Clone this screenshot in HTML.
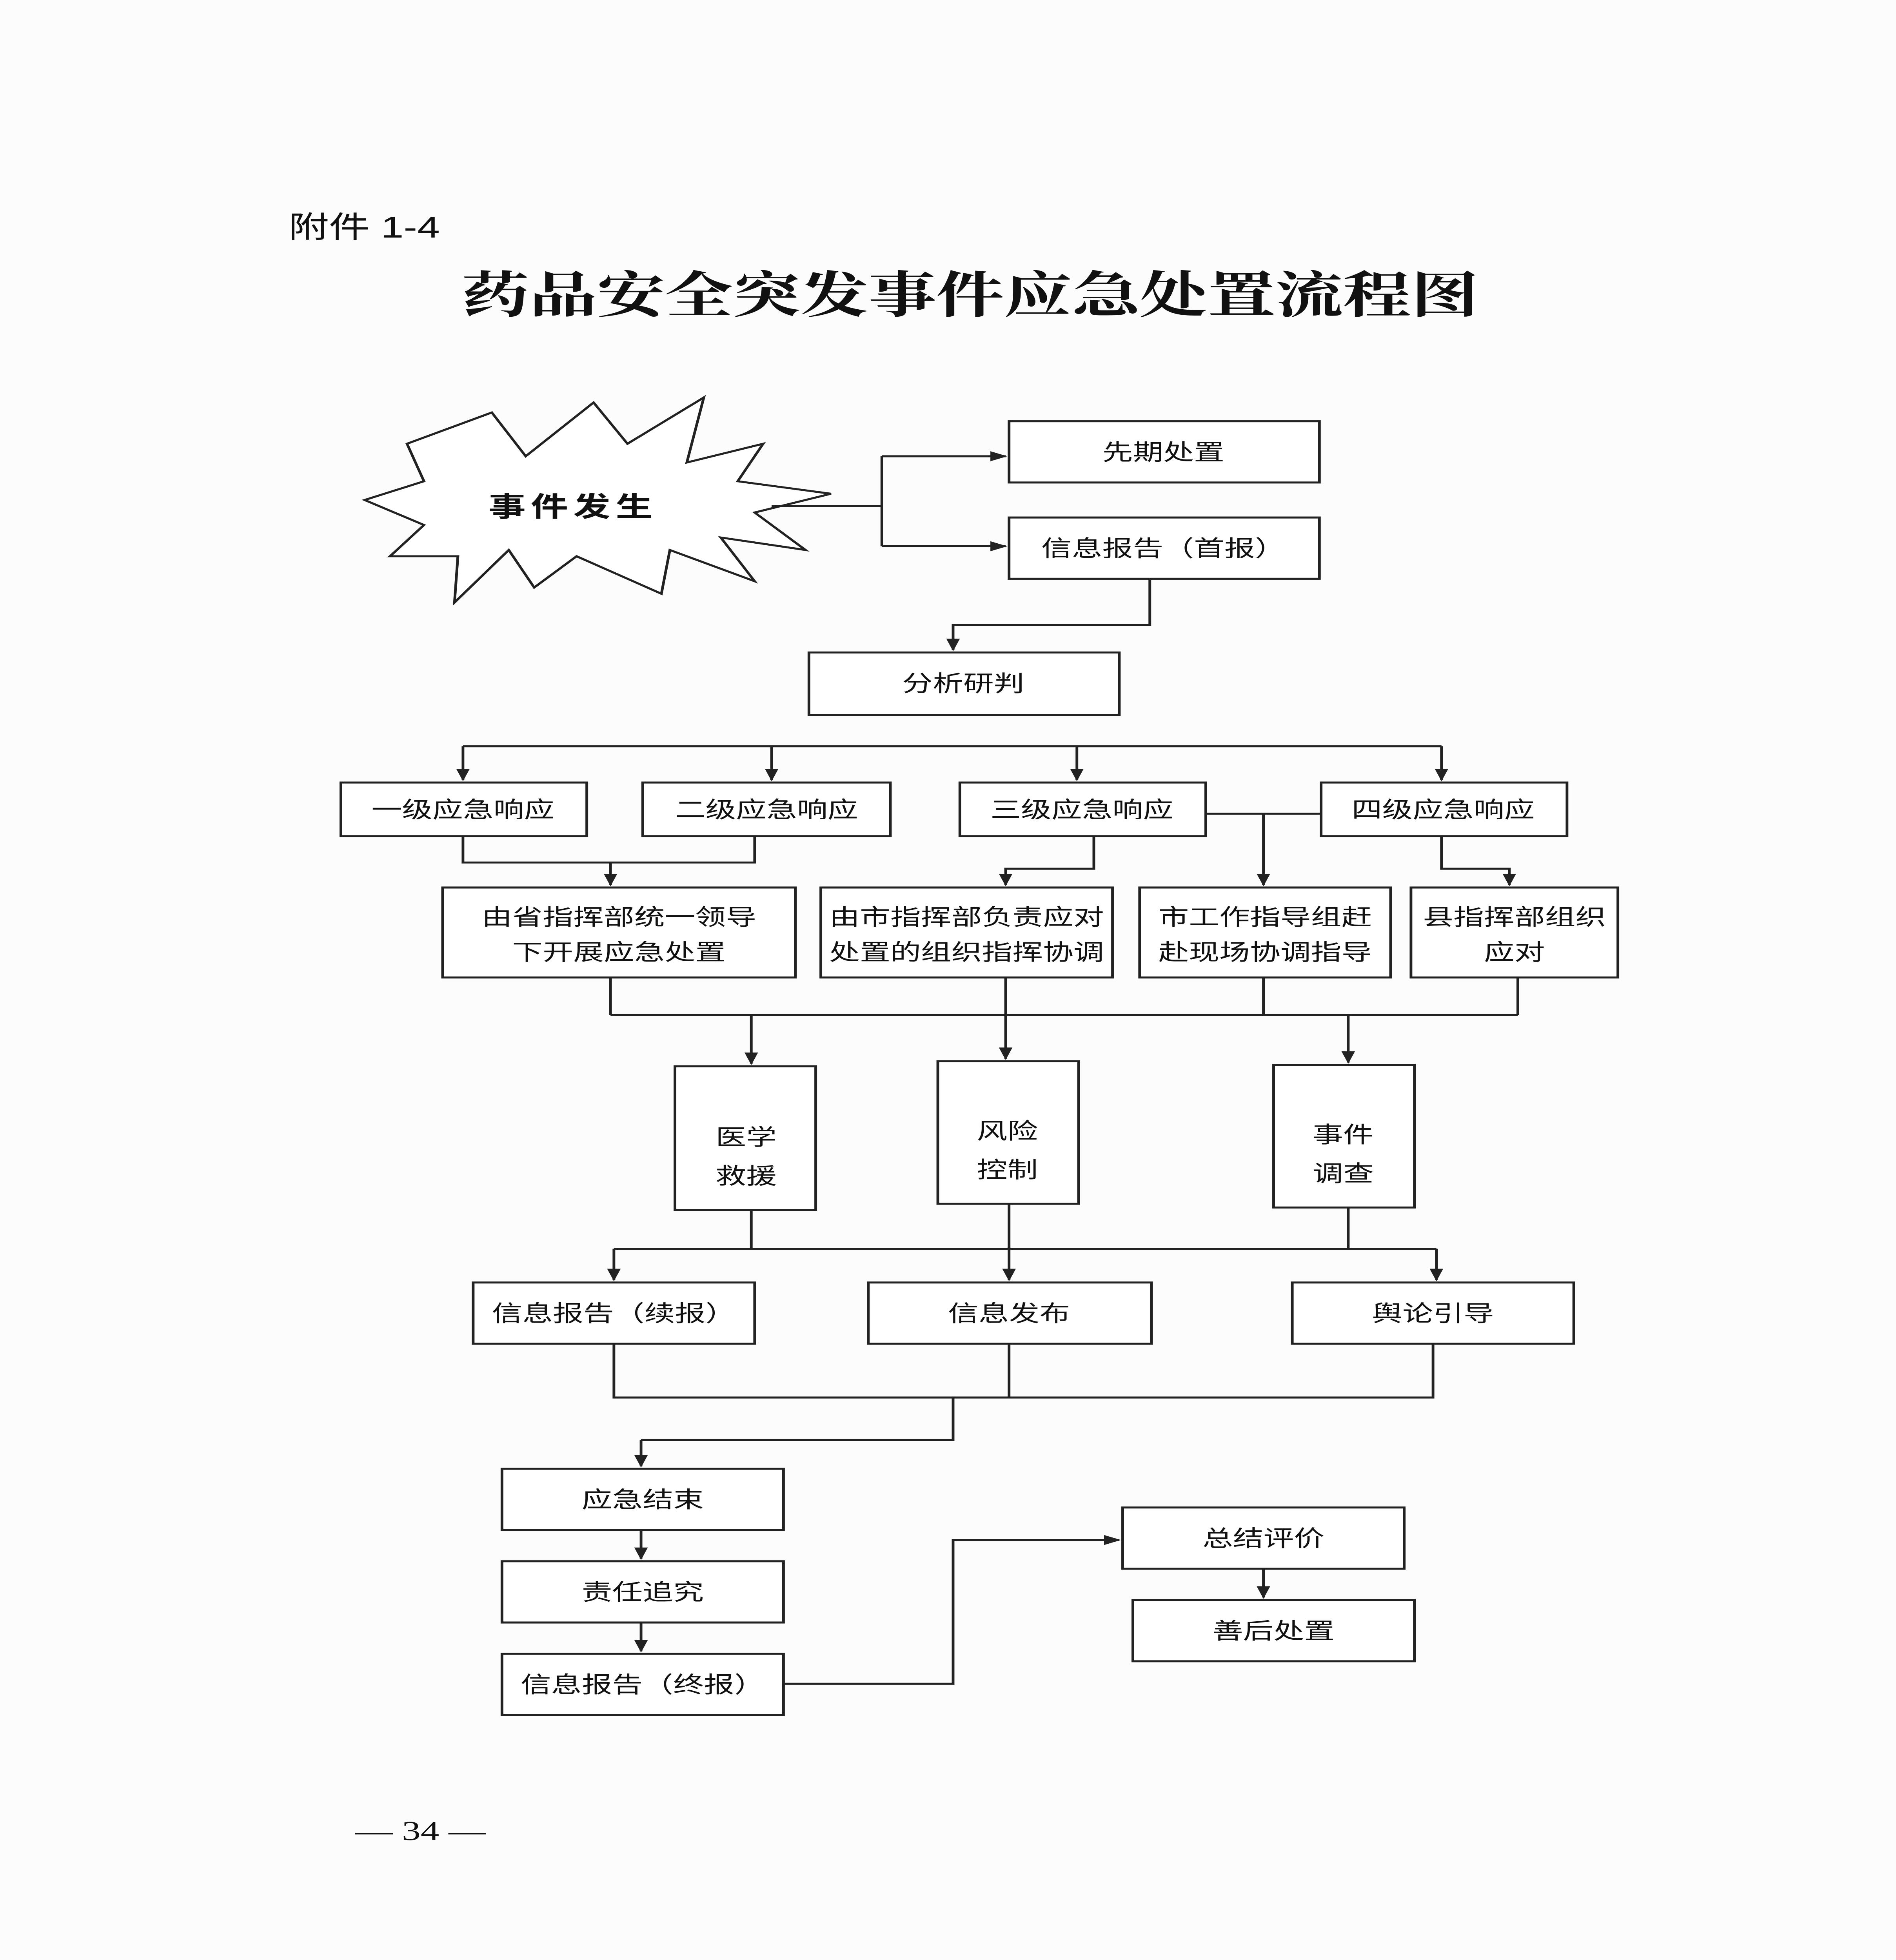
<!DOCTYPE html>
<html><head><meta charset="utf-8"><style>
html,body{margin:0;padding:0;background:#fcfcfc;width:100%;height:100%;overflow:hidden;}
svg{display:block;position:fixed;left:0;top:0;width:100vw;height:100vh;}
text{font-family:"Liberation Sans","Noto Sans CJK SC",sans-serif;fill:#111;}
.b{fill:#fff;stroke:#222;stroke-width:1.6;}
.l{fill:none;stroke:#222;stroke-width:1.6;}
.t{font-size:18px;text-anchor:middle;}
</style></head><body>
<svg viewBox="0 0 1118 1568" preserveAspectRatio="none" xmlns="http://www.w3.org/2000/svg">
<defs><marker id="a" markerWidth="10" markerHeight="10" refX="9" refY="5" orient="auto" markerUnits="userSpaceOnUse"><path d="M0,1 L10,5 L0,9 z" fill="#222"/></marker></defs>
<rect width="1118" height="1568" fill="#fcfcfc"/>
<text x="170" y="190" style="font-size:24px">附件 1-4</text>
<text x="572" y="250" style="font-size:40px;font-weight:bold;font-family:'Noto Serif CJK SC','Liberation Serif',serif;text-anchor:middle">药品安全突发事件应急处置流程图</text>
<polygon class="b" points="240,355 290,330 310,365 350,322 370,355 415,318 405,370 450,355 435,385 490,395 445,410 475,440 425,430 445,465 395,440 390,475 340,445 315,470 300,440 268,482 270,445 230,445 250,420 215,400 250,385"/>
<text x="338" y="413" style="font-size:22px;font-weight:bold;text-anchor:middle;letter-spacing:3px">事件发生</text>
<path class="l" d="M455,405 H520 M520,365 V437"/>
<path class="l" d="M520,365 H593" marker-end="url(#a)"/>
<path class="l" d="M520,437 H593" marker-end="url(#a)"/>
<rect class="b" x="595" y="337" width="183" height="49"/><text class="t" x="686" y="368">先期处置</text>
<rect class="b" x="595" y="414" width="183" height="49"/><text class="t" x="686" y="445">信息报告（首报）</text>
<path class="l" d="M678,463 V500 H562 V520" marker-end="url(#a)"/>
<rect class="b" x="477" y="522" width="183" height="50"/><text class="t" x="568" y="553">分析研判</text>
<path class="l" d="M273,597 H850"/>
<path class="l" d="M273,597 V624" marker-end="url(#a)"/>
<path class="l" d="M455,597 V624" marker-end="url(#a)"/>
<path class="l" d="M635,597 V624" marker-end="url(#a)"/>
<path class="l" d="M850,597 V624" marker-end="url(#a)"/>
<rect class="b" x="201" y="626" width="145" height="43"/><text class="t" x="273" y="654">一级应急响应</text>
<rect class="b" x="379" y="626" width="146" height="43"/><text class="t" x="452" y="654">二级应急响应</text>
<rect class="b" x="566" y="626" width="145" height="43"/><text class="t" x="638" y="654">三级应急响应</text>
<rect class="b" x="779" y="626" width="145" height="43"/><text class="t" x="851" y="654">四级应急响应</text>
<path class="l" d="M711,651 H779"/>
<path class="l" d="M745,651 V708" marker-end="url(#a)"/>
<path class="l" d="M273,669 V690 H445 V669"/>
<path class="l" d="M360,690 V708" marker-end="url(#a)"/>
<path class="l" d="M645,669 V695 H593 V708" marker-end="url(#a)"/>
<path class="l" d="M850,669 V695 H890 V708" marker-end="url(#a)"/>
<rect class="b" x="261" y="710" width="208" height="72"/><text class="t" x="365" y="740">由省指挥部统一领导</text><text class="t" x="365" y="768">下开展应急处置</text>
<rect class="b" x="484" y="710" width="172" height="72"/><text class="t" x="570" y="740">由市指挥部负责应对</text><text class="t" x="570" y="768">处置的组织指挥协调</text>
<rect class="b" x="672" y="710" width="148" height="72"/><text class="t" x="746" y="740">市工作指导组赶</text><text class="t" x="746" y="768">赴现场协调指导</text>
<rect class="b" x="832" y="710" width="122" height="72"/><text class="t" x="893" y="740">县指挥部组织</text><text class="t" x="893" y="768">应对</text>
<path class="l" d="M360,782 V812 M593,782 V812 M745,782 V812 M895,782 V812 M360,812 H895"/>
<path class="l" d="M443,812 V851" marker-end="url(#a)"/>
<path class="l" d="M593,812 V847" marker-end="url(#a)"/>
<path class="l" d="M795,812 V850" marker-end="url(#a)"/>
<rect class="b" x="398" y="853" width="83" height="115"/><text class="t" x="440" y="916">医学</text><text class="t" x="440" y="947">救援</text>
<rect class="b" x="553" y="849" width="83" height="114"/><text class="t" x="594" y="911">风险</text><text class="t" x="594" y="942">控制</text>
<rect class="b" x="751" y="852" width="83" height="114"/><text class="t" x="792" y="914">事件</text><text class="t" x="792" y="945">调查</text>
<path class="l" d="M443,968 V999 M595,963 V999 M795,966 V999 M362,999 H847"/>
<path class="l" d="M362,999 V1024" marker-end="url(#a)"/>
<path class="l" d="M595,999 V1024" marker-end="url(#a)"/>
<path class="l" d="M847,999 V1024" marker-end="url(#a)"/>
<rect class="b" x="279" y="1026" width="166" height="49"/><text class="t" x="362" y="1057">信息报告（续报）</text>
<rect class="b" x="512" y="1026" width="167" height="49"/><text class="t" x="595" y="1057">信息发布</text>
<rect class="b" x="762" y="1026" width="166" height="49"/><text class="t" x="845" y="1057">舆论引导</text>
<path class="l" d="M362,1075 V1118 H845 V1075 M595,1075 V1118 M562,1118 V1152 H378"/>
<path class="l" d="M378,1152 V1173" marker-end="url(#a)"/>
<rect class="b" x="296" y="1175" width="166" height="49"/><text class="t" x="379" y="1206">应急结束</text>
<path class="l" d="M378,1224 V1247" marker-end="url(#a)"/>
<rect class="b" x="296" y="1249" width="166" height="49"/><text class="t" x="379" y="1280">责任追究</text>
<path class="l" d="M378,1298 V1321" marker-end="url(#a)"/>
<rect class="b" x="296" y="1323" width="166" height="49"/><text class="t" x="379" y="1354">信息报告（终报）</text>
<path class="l" d="M462,1347 H562 V1232 H660" marker-end="url(#a)"/>
<rect class="b" x="662" y="1206" width="166" height="49"/><text class="t" x="745" y="1237">总结评价</text>
<path class="l" d="M745,1255 V1278" marker-end="url(#a)"/>
<rect class="b" x="668" y="1280" width="166" height="49"/><text class="t" x="751" y="1311">善后处置</text>
<text x="248" y="1472" style="font-size:22px;text-anchor:middle;font-family:'Liberation Serif',serif">— 34 —</text>
</svg>
</body></html>
